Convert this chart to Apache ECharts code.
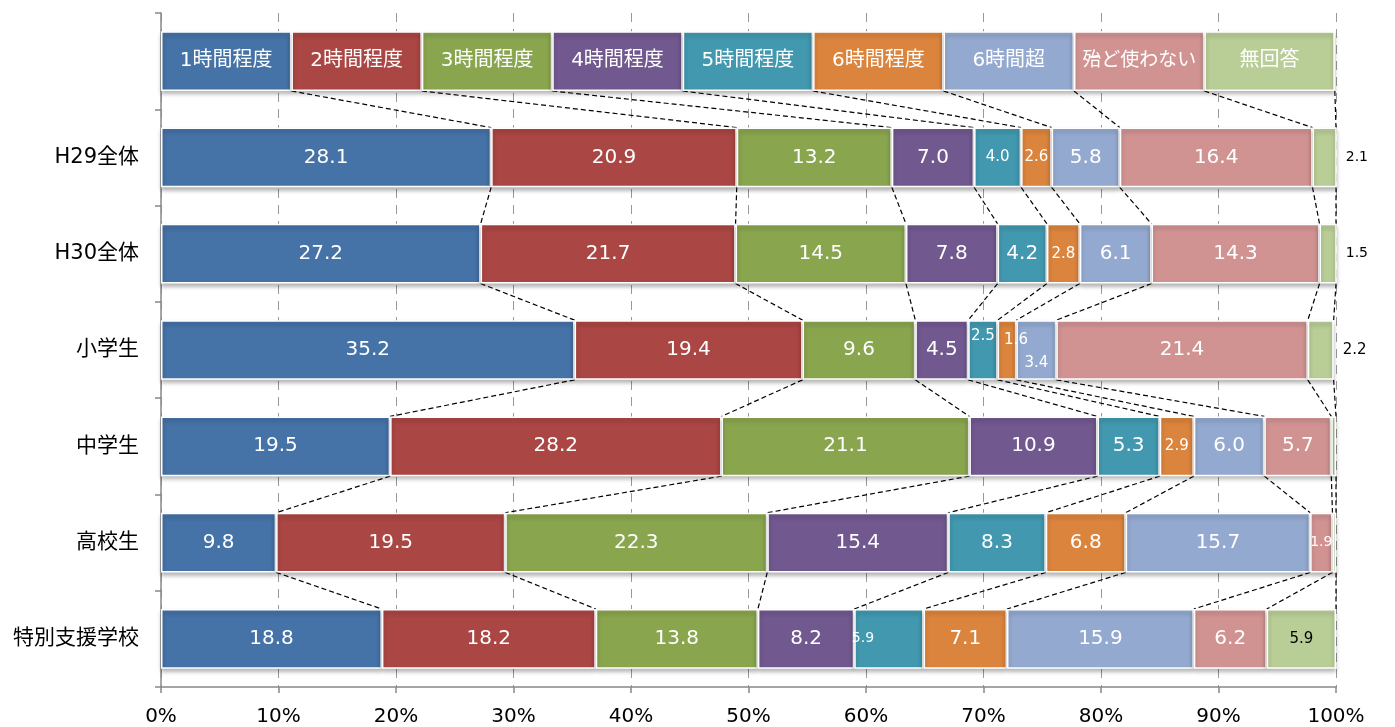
<!DOCTYPE html>
<html>
<head>
<meta charset="utf-8">
<script src="https://cdn.jsdelivr.net/npm/echarts@6/dist/echarts.min.js"></script>
<style>
  html, body { margin: 0; padding: 0; background: #fff; }
  #chart { width: 1395px; height: 727px; }
</style>
</head>
<body>
<div id="chart"></div>
<script>
const seriesNames = ["1時間程度", "2時間程度", "3時間程度", "4時間程度", "5時間程度", "6時間程度", "6時間超", "殆ど使わない", "無回答"];
const rowLabels = ["", "H29全体", "H30全体", "小学生", "中学生", "高校生", "特別支援学校"];
const xTicks = [0, 10, 20, 30, 40, 50, 60, 70, 80, 90, 100];

// 各行の割合（%）
const keyRow = [11.1, 11.1, 11.1, 11.1, 11.1, 11.1, 11.1, 11.1, 11.1];
const h29 = [28.1, 20.9, 13.2, 7.0, 4.0, 2.6, 5.8, 16.4, 2.1];
const h30 = [27.2, 21.7, 14.5, 7.8, 4.2, 2.8, 6.1, 14.3, 1.5];
const elementary = [35.2, 19.4, 9.6, 4.5, 2.5, 1.6, 3.4, 21.4, 2.2];
const juniorHigh = [19.5, 28.2, 21.1, 10.9, 5.3, 2.9, 6.0, 5.7, 0.4];
const highSchool = [9.8, 19.5, 22.3, 15.4, 8.3, 6.8, 15.7, 1.9, 0.3];
const special = [18.8, 18.2, 13.8, 8.2, 5.9, 7.1, 15.9, 6.2, 5.9];

const rows = [keyRow, h29, h30, elementary, juniorHigh, highSchool, special];
const colors = ["#4572A7", "#AA4643", "#89A54E", "#71588F", "#4198AF", "#DB843D", "#93A9CF", "#D19392", "#B9CD96"];

const FONT = "DejaVu Sans, Noto Sans CJK JP";

// ラベルの個別調整（行-系列）
const labelTweaks = {
  "0-7": { fontSize: 19 },
  "1-4": { fontSize: 15 },
  "1-5": { fontSize: 15 },
  "1-8": { position: "right", distance: 9, color: "#000", fontSize: 14 },
  "2-5": { fontSize: 15 },
  "2-8": { position: "right", distance: 9, color: "#000", fontSize: 14 },
  "3-4": { fontSize: 15, offset: [0, -14] },
  "3-5": { fontSize: 15, offset: [9, -10] },
  "3-6": { fontSize: 15, offset: [0, 13] },
  "3-8": { position: "right", distance: 9, color: "#000", fontSize: 15 },
  "4-5": { fontSize: 15 },
  "4-8": { show: false },
  "5-7": { fontSize: 14 },
  "5-8": { show: false },
  "6-4": { fontSize: 14, offset: [-26, 0] },
  "6-8": { fontSize: 15, color: "#000" }
};

const barSeries = seriesNames.map((name, s) => ({
  name,
  type: "bar",
  stack: "total",
  barWidth: "62%",
  z: 3,
  itemStyle: {
    color: colors[s],
    borderColor: "#fff",
    borderWidth: 1.5,
    shadowColor: "rgba(0,0,0,0.28)",
    shadowBlur: 4,
    shadowOffsetY: 3
  },
  label: {
    show: true,
    position: "inside",
    color: "#fff",
    fontFamily: FONT,
    fontSize: 20,
    formatter: (p) => (p.dataIndex === 0 ? name : p.value.toFixed(1))
  },
  data: rows.map((r, i) => {
    const tweak = labelTweaks[i + "-" + s];
    return tweak ? { value: r[s], label: tweak } : r[s];
  })
}));

// 区切り線（隣り合う行の境界同士を結ぶ）
const linkData = [];
for (let i = 0; i < rows.length - 1; i++) {
  let a = 0, b = 0;
  for (let s = 0; s < seriesNames.length; s++) {
    a += rows[i][s];
    b += rows[i + 1][s];
    linkData.push([Math.min(a, 100), i, Math.min(b, 100), i + 1]);
  }
}

const linkSeries = {
  type: "custom",
  coordinateSystem: "cartesian2d",
  silent: true,
  z: 2,
  encode: { x: [0, 2], y: [1, 3] },
  renderItem: (params, api) => {
    const p1 = api.coord([api.value(0), api.value(1)]);
    const p2 = api.coord([api.value(2), api.value(3)]);
    const half = api.size([0, 1])[1] * 0.31;
    return {
      type: "line",
      shape: { x1: p1[0], y1: p1[1] + half, x2: p2[0], y2: p2[1] - half },
      style: { stroke: "#000", lineWidth: 1.2, lineDash: [5, 3] }
    };
  },
  data: linkData
};

const chart = echarts.init(document.getElementById("chart"));
chart.setOption({
  animation: false,
  textStyle: { fontFamily: FONT },
  grid: { left: 161, right: 59, top: 13, bottom: 40 },
  xAxis: {
    type: "value",
    min: xTicks[0],
    max: xTicks[xTicks.length - 1],
    interval: 10,
    axisLine: { show: true, lineStyle: { color: "#888", width: 1.5 } },
    axisTick: { show: true, length: 6, lineStyle: { color: "#888", width: 1.5 } },
    axisLabel: { formatter: "{value}%", color: "#000", fontSize: 20, margin: 20, fontFamily: FONT },
    splitLine: { show: true, lineStyle: { color: "#999", type: [9, 7], width: 1 } }
  },
  yAxis: {
    type: "category",
    inverse: true,
    data: rowLabels,
    axisLine: { show: true, lineStyle: { color: "#888", width: 1.5 } },
    axisTick: { show: true, length: 6, lineStyle: { color: "#888", width: 1.5 } },
    axisLabel: { color: "#000", fontSize: 21, margin: 22, fontFamily: FONT }
  },
  series: [linkSeries, ...barSeries]
});
</script>
</body>
</html>
